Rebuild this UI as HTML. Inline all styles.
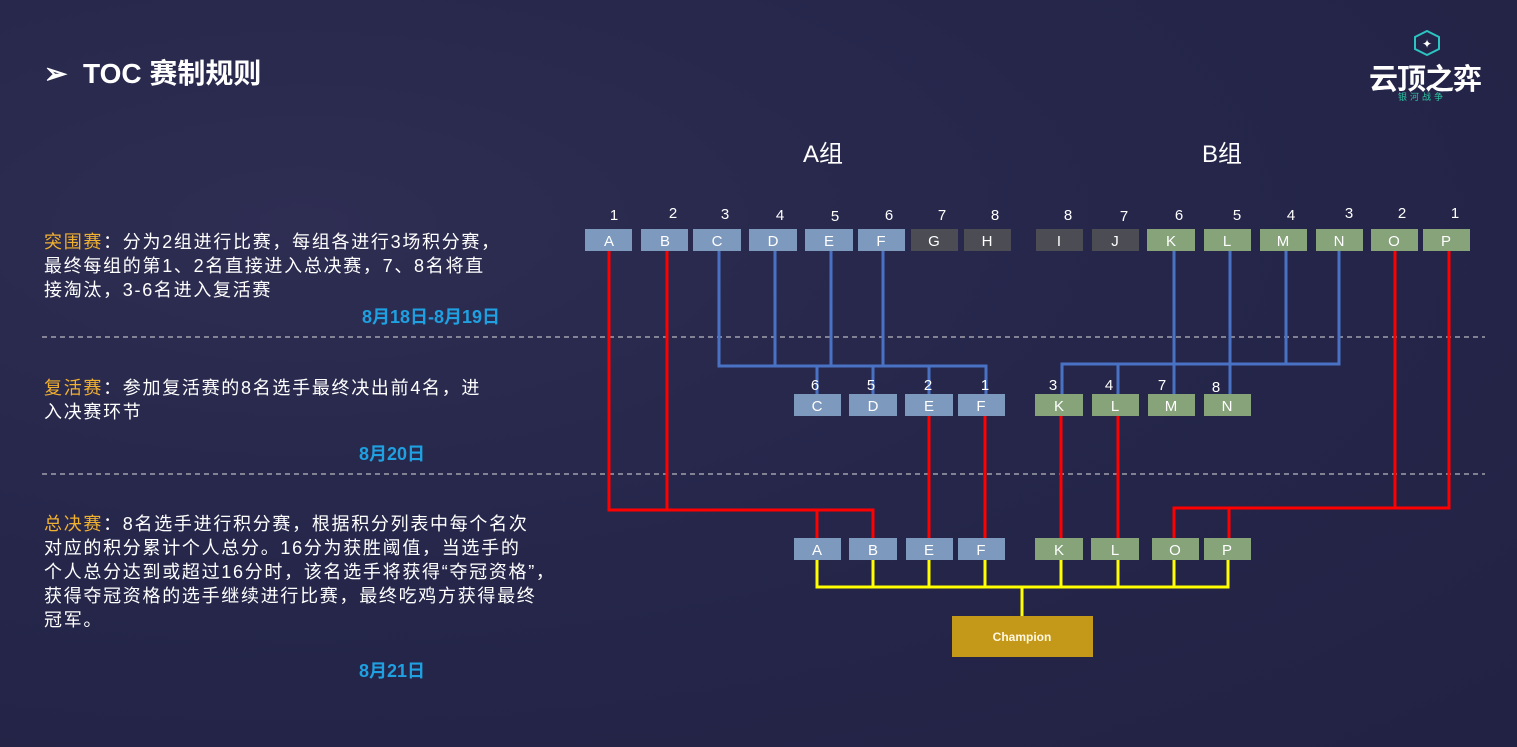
<!DOCTYPE html>
<html><head><meta charset="utf-8"><style>
html,body{margin:0;padding:0;}
body{width:1517px;height:747px;overflow:hidden;background:radial-gradient(ellipse at 20% 30%,#2e2d52 0%,#25264a 50%,#222244 100%);font-family:"Liberation Sans","Noto Sans CJK SC",sans-serif;position:relative;color:#fff;}
.t{position:absolute;white-space:nowrap;}
.p{position:absolute;left:44px;font-size:18px;letter-spacing:1.7px;line-height:24px;color:#fff;white-space:nowrap;}
.o{color:#f0b030;}
.d{position:absolute;font-size:18px;font-weight:bold;color:#1fa0e0;}
</style></head><body>
<div class="t" style="left:44px;top:52px;font-size:28px;font-weight:bold;">➢&nbsp; TOC 赛制规则</div>
<div class="t" style="left:1369px;top:56px;font-size:29px;font-weight:bold;letter-spacing:-1px;">云顶之弈</div>
<div class="t" style="left:1398px;top:90px;font-size:9px;color:#2bc4a0;letter-spacing:3px;">银河战争</div>
<svg style="position:absolute;left:1412px;top:30px" width="30" height="26"><polygon points="15,1 27,7 27,19 15,25 3,19 3,7" fill="none" stroke="#2bc4c0" stroke-width="2"/><text x="15" y="18" font-size="12" fill="#fff" text-anchor="middle">✦</text></svg>

<div class="p" style="top:230px;"><span class="o">突围赛</span>：分为2组进行比赛，每组各进行3场积分赛，<br>最终每组的第1、2名直接进入总决赛，7、8名将直<br>接淘汰，3-6名进入复活赛</div>
<div class="d" style="left:362px;top:303px;">8月18日-8月19日</div>
<div class="p" style="top:376px;"><span class="o">复活赛</span>：参加复活赛的8名选手最终决出前4名，进<br>入决赛环节</div>
<div class="d" style="left:359px;top:440px;">8月20日</div>
<div class="p" style="top:512px;"><span class="o">总决赛</span>：8名选手进行积分赛，根据积分列表中每个名次<br>对应的积分累计个人总分。16分为获胜阈值，当选手的<br>个人总分达到或超过16分时，该名选手将获得“夺冠资格”，<br>获得夺冠资格的选手继续进行比赛，最终吃鸡方获得最终<br>冠军。</div>
<div class="d" style="left:359px;top:657px;">8月21日</div>

<svg style="position:absolute;left:0;top:0" width="1517" height="747" font-family="Liberation Sans, sans-serif">
<line x1="42" y1="337" x2="1485" y2="337" stroke="#ddd" stroke-dasharray="5,4" stroke-width="1"/>
<line x1="42" y1="474" x2="1485" y2="474" stroke="#ddd" stroke-dasharray="5,4" stroke-width="1"/>
<text x="823" y="162" font-size="24" fill="#fff" text-anchor="middle" font-family="Liberation Sans, Noto Sans CJK SC, sans-serif">A组</text>
<text x="1222" y="162" font-size="24" fill="#fff" text-anchor="middle" font-family="Liberation Sans, Noto Sans CJK SC, sans-serif">B组</text>
<g stroke="#4a72c4" stroke-width="3" fill="none">
<path d="M719 250V366H986V394M775 250V366M831 250V366M883 250V366M817 366V394M873 366V394M929 366V394"/>
<path d="M1339 250V364H1062V394M1174 250V394M1230 250V394M1286 250V364M1118 364V394"/>
</g>
<g stroke="#f00" stroke-width="3" fill="none">
<path d="M609 250V510H873V538M667 250V510M817 510V538"/>
<path d="M929 416V538M985 416V538M1061 416V538M1118 416V538"/>
<path d="M1395 250V508M1449 250V508H1174V538M1229 508V538"/>
</g>
<g stroke="#ff0" stroke-width="3" fill="none">
<path d="M817 560V587H1228V560M873 560V587M929 560V587M985 560V587M1061 560V587M1118 560V587M1174 560V587M1022 587V616"/>
</g>
<g font-size="15" fill="#fff" text-anchor="middle">
<g fill="#7d99bd"><rect x="585" y="229" width="47" height="22"/><rect x="641" y="229" width="47" height="22"/><rect x="693" y="229" width="48" height="22"/><rect x="749" y="229" width="48" height="22"/><rect x="805" y="229" width="48" height="22"/><rect x="858" y="229" width="47" height="22"/></g>
<g fill="#4c4c54"><rect x="911" y="229" width="47" height="22"/><rect x="964" y="229" width="47" height="22"/><rect x="1036" y="229" width="47" height="22"/><rect x="1092" y="229" width="47" height="22"/></g>
<g fill="#86a37a"><rect x="1147" y="229" width="48" height="22"/><rect x="1204" y="229" width="47" height="22"/><rect x="1260" y="229" width="47" height="22"/><rect x="1316" y="229" width="47" height="22"/><rect x="1371" y="229" width="47" height="22"/><rect x="1423" y="229" width="47" height="22"/></g>
<text x="609" y="246">A</text><text x="665" y="246">B</text><text x="717" y="246">C</text><text x="773" y="246">D</text><text x="829" y="246">E</text><text x="881" y="246">F</text><text x="934" y="246">G</text><text x="987" y="246">H</text>
<text x="1059" y="246">I</text><text x="1115" y="246">J</text><text x="1171" y="246">K</text><text x="1227" y="246">L</text><text x="1283" y="246">M</text><text x="1339" y="246">N</text><text x="1394" y="246">O</text><text x="1446" y="246">P</text>
<text x="614" y="220">1</text><text x="673" y="218">2</text><text x="725" y="219">3</text><text x="780" y="220">4</text><text x="835" y="221">5</text><text x="889" y="220">6</text><text x="942" y="220">7</text><text x="995" y="220">8</text>
<text x="1068" y="220">8</text><text x="1124" y="221">7</text><text x="1179" y="220">6</text><text x="1237" y="220">5</text><text x="1291" y="220">4</text><text x="1349" y="218">3</text><text x="1402" y="218">2</text><text x="1455" y="218">1</text>
<g fill="#7d99bd"><rect x="794" y="394" width="47" height="22"/><rect x="849" y="394" width="48" height="22"/><rect x="905" y="394" width="48" height="22"/><rect x="958" y="394" width="47" height="22"/></g>
<g fill="#86a37a"><rect x="1035" y="394" width="48" height="22"/><rect x="1092" y="394" width="47" height="22"/><rect x="1148" y="394" width="47" height="22"/><rect x="1204" y="394" width="47" height="22"/></g>
<text x="817" y="411">C</text><text x="873" y="411">D</text><text x="929" y="411">E</text><text x="981" y="411">F</text>
<text x="1059" y="411">K</text><text x="1115" y="411">L</text><text x="1171" y="411">M</text><text x="1227" y="411">N</text>
<text x="815" y="390">6</text><text x="871" y="390">5</text><text x="928" y="390">2</text><text x="985" y="390">1</text>
<text x="1053" y="390">3</text><text x="1109" y="390">4</text><text x="1162" y="390">7</text><text x="1216" y="392">8</text>
<g fill="#7d99bd"><rect x="794" y="538" width="47" height="22"/><rect x="849" y="538" width="48" height="22"/><rect x="906" y="538" width="47" height="22"/><rect x="958" y="538" width="47" height="22"/></g>
<g fill="#86a37a"><rect x="1035" y="538" width="48" height="22"/><rect x="1091" y="538" width="48" height="22"/><rect x="1152" y="538" width="47" height="22"/><rect x="1204" y="538" width="47" height="22"/></g>
<text x="817" y="555">A</text><text x="873" y="555">B</text><text x="929" y="555">E</text><text x="981" y="555">F</text>
<text x="1059" y="555">K</text><text x="1115" y="555">L</text><text x="1175" y="555">O</text><text x="1227" y="555">P</text>
<rect x="952" y="616" width="141" height="41" fill="#c4991a"/>
<text x="1022" y="641" font-size="12" font-weight="bold" fill="#fff8e0">Champion</text>
</g>
</svg>
</body></html>
